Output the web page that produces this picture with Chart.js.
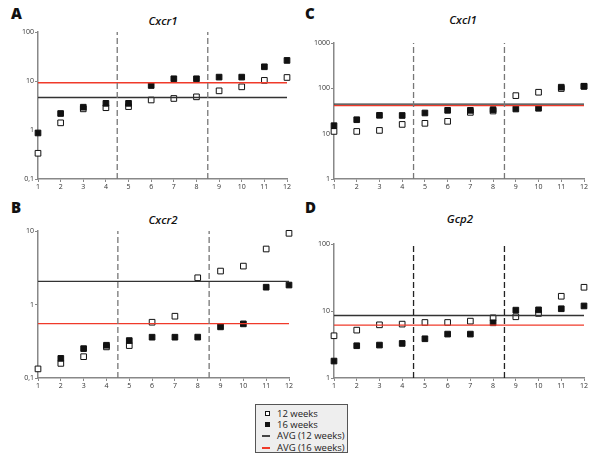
<!DOCTYPE html>
<html>
<head>
<meta charset="utf-8">
<script src="https://cdn.jsdelivr.net/npm/chart.js@4"></script>
<style>
  body { margin: 0; background: #fff; width: 600px; height: 455px; position: relative; overflow: hidden; font-family: "Open Sans", sans-serif; }
  .panel { position: absolute; width: 300px; height: 200px; }
  .letter { position: absolute; font: 800 15px "Open Sans", sans-serif; color: #111; }
  .title { position: absolute; width: 120px; text-align: center; font: italic 600 11.5px "Open Sans", sans-serif; color: #111; }
  #legend { position: absolute; left: 255px; top: 404px; width: 93px; height: 49px; background: #eeeeee; border: 1px solid #555; box-sizing: border-box; font: 9.5px "Open Sans", sans-serif; color: #222; }
  #legend .row { position: absolute; left: 0; height: 11px; line-height: 11px; }
  #legend .sq { position: absolute; width: 5px; height: 5px; border: 1px solid #111; box-sizing: border-box; top: 3px; }
  #legend .ln { position: absolute; width: 8px; height: 2px; top: 5px; }
  #legend .tx { position: absolute; left: 21px; white-space: nowrap; }
</style>
</head>
<body>
<div class="letter" style="left:11px; top:3px">A</div>
<div class="letter" style="left:305px; top:3px">C</div>
<div class="letter" style="left:11px; top:197px">B</div>
<div class="letter" style="left:305px; top:197px">D</div>
<div class="title" style="left:103px; top:13px">Cxcr1</div>
<div class="title" style="left:403px; top:12px">Cxcl1</div>
<div class="title" style="left:103px; top:212px">Cxcr2</div>
<div class="title" style="left:400px; top:211px">Gcp2</div>

<div class="panel" style="left:0; top:0"><canvas id="cA"></canvas></div>
<div class="panel" style="left:300px; top:0"><canvas id="cC"></canvas></div>
<div class="panel" style="left:0; top:195px"><canvas id="cB"></canvas></div>
<div class="panel" style="left:300px; top:195px"><canvas id="cD"></canvas></div>

<div id="legend">
  <div class="row" style="top:3px"><div class="sq" style="left:9px; background:#fff"></div><span class="tx">12 weeks</span></div>
  <div class="row" style="top:14px"><div class="sq" style="left:9px; background:#111"></div><span class="tx">16 weeks</span></div>
  <div class="row" style="top:25px"><div class="ln" style="left:6px; background:#444"></div><span class="tx">AVG (12 weeks)</span></div>
  <div class="row" style="top:37px"><div class="ln" style="left:6px; background:#f03a2a"></div><span class="tx">AVG (16 weeks)</span></div>
</div>

<script>
// x = sample 1..12
const samples = [1, 2, 3, 4, 5, 6, 7, 8, 9, 10, 11, 12];

// Cxcr1
const cxcr1_12w = [0.335, 1.4, 2.7, 2.85, 3.0, 4.1, 4.4, 4.75, 6.3, 7.6, 10.3, 11.8];
const cxcr1_16w = [0.87, 2.17, 2.92, 3.5, 3.5, 8.1, 11.1, 11.1, 12.0, 12.0, 19.5, 26.3];
const cxcr1_avg12 = 4.6;
const cxcr1_avg16 = 9.2;

// Cxcl1
const cxcl1_12w = [11.2, 11.2, 11.8, 16, 16.9, 18.7, 29.5, 31.6, 69, 82, 99, 111];
const cxcl1_16w = [15, 20.3, 25.4, 25.2, 28.6, 32.7, 32.7, 33.9, 35, 36.3, 106, 111];
const cxcl1_avg12 = 45;
const cxcl1_avg16 = 41.6;

// Cxcr2
const cxcr2_12w = [0.133, 0.158, 0.195, 0.265, 0.276, 0.574, 0.693, 2.31, 2.85, 3.33, 5.69, 9.3];
const cxcr2_16w = [null, 0.185, 0.251, 0.279, 0.323, 0.359, 0.359, 0.36, 0.496, 0.545, 1.72, 1.84];
const cxcr2_avg12 = 2.06;
const cxcr2_avg16 = 0.55;

// Gcp2
const gcp2_12w = [4.27, 5.18, 6.22, 6.37, 6.74, 6.74, 7.06, 7.9, 8.2, 9.2, 16.6, 22.6];
const gcp2_16w = [1.79, 3.03, 3.1, 3.28, 3.85, 4.52, 4.52, 6.67, 10.3, 10.4, 10.8, 11.9];
const gcp2_avg12 = 8.57;
const gcp2_avg16 = 6.15;

const dividers = [4.5, 8.5];

function pts(vals) {
    let out = [];
    for (let i = 0; i < samples.length; i++) {
        if (vals[i] !== null) out.push({x: samples[i], y: vals[i]});
    }
    return out;
}

function makePanel(id, v12, v16, avg12, avg16, yTicks, box, dashColor) {
    let ymin = yTicks[0], ymax = yTicks[yTicks.length - 1];
    let datasets = [];
    dividers.forEach(d => {
        datasets.push({
            type: 'line', data: [{x: d, y: ymin}, {x: d, y: ymax}],
            borderColor: dashColor, borderWidth: 1.3, borderDash: [6, 3],
            pointRadius: 0, clip: false
        });
    });
    datasets.push({
        type: 'line', data: [{x: 1, y: avg12}, {x: 12, y: avg12}],
        borderColor: '#333', borderWidth: 1.3, pointRadius: 0, clip: false
    });
    datasets.push({
        type: 'line', data: [{x: 1, y: avg16}, {x: 12, y: avg16}],
        borderColor: '#f03a2a', borderWidth: 1.3, pointRadius: 0, clip: false
    });
    datasets.push({
        type: 'scatter', data: pts(v16), pointStyle: 'rect', pointRadius: 4,
        backgroundColor: '#111', borderColor: '#111', borderWidth: 1, clip: false
    });
    datasets.push({
        type: 'scatter', data: pts(v12), pointStyle: 'rect', pointRadius: 4,
        backgroundColor: '#fff', borderColor: '#111', borderWidth: 1, clip: false
    });

    let ctx = document.getElementById(id).getContext('2d');
    new Chart(ctx, {
        type: 'scatter',
        data: {datasets: datasets},
        options: {
            responsive: false,
            animation: false,
            devicePixelRatio: 1,
            layout: {padding: {left: 0, right: 300 - box.right, top: box.top, bottom: 0}},
            plugins: {legend: {display: false}, tooltip: {enabled: false}},
            scales: {
                x: {
                    type: 'linear', min: 1, max: 12,
                    afterFit: s => { s.height = 200 - box.bottom; },
                    afterBuildTicks: s => { s.ticks = samples.map(v => ({value: v})); },
                    ticks: {color: '#333', font: {size: 7, family: 'Open Sans'}, padding: 1, maxRotation: 0},
                    grid: {drawOnChartArea: false, drawTicks: true, tickLength: 3, color: '#888'},
                    border: {color: '#888', width: 1.5}
                },
                y: {
                    type: 'logarithmic', min: ymin, max: ymax,
                    afterFit: s => { s.width = box.left; },
                    afterBuildTicks: s => { s.ticks = yTicks.map(v => ({value: v})); },
                    ticks: {
                        color: '#333', font: {size: 7, family: 'Open Sans'}, padding: 1,
                        callback: v => String(v).replace('.', ',')
                    },
                    grid: {drawOnChartArea: false, drawTicks: true, tickLength: 3, color: '#888'},
                    border: {color: '#888', width: 1.5}
                }
            }
        }
    });
}

function sizeCanvas(id) {
    let c = document.getElementById(id);
    c.width = 300; c.height = 200;
    c.style.width = '300px'; c.style.height = '200px';
}
['cA', 'cB', 'cC', 'cD'].forEach(sizeCanvas);

makePanel('cA', cxcr1_12w, cxcr1_16w, cxcr1_avg12, cxcr1_avg16, [0.1, 1, 10, 100],
    {left: 38, right: 287, top: 32, bottom: 179}, '#777');
makePanel('cC', cxcl1_12w, cxcl1_16w, cxcl1_avg12, cxcl1_avg16, [1, 10, 100, 1000],
    {left: 34, right: 284, top: 43, bottom: 179}, '#777');
makePanel('cB', cxcr2_12w, cxcr2_16w, cxcr2_avg12, cxcr2_avg16, [0.1, 1, 10],
    {left: 38, right: 289, top: 36, bottom: 183}, '#777');
makePanel('cD', gcp2_12w, gcp2_16w, gcp2_avg12, gcp2_avg16, [1, 10, 100],
    {left: 34, right: 284, top: 49, bottom: 183}, '#222');
</script>
</body>
</html>
